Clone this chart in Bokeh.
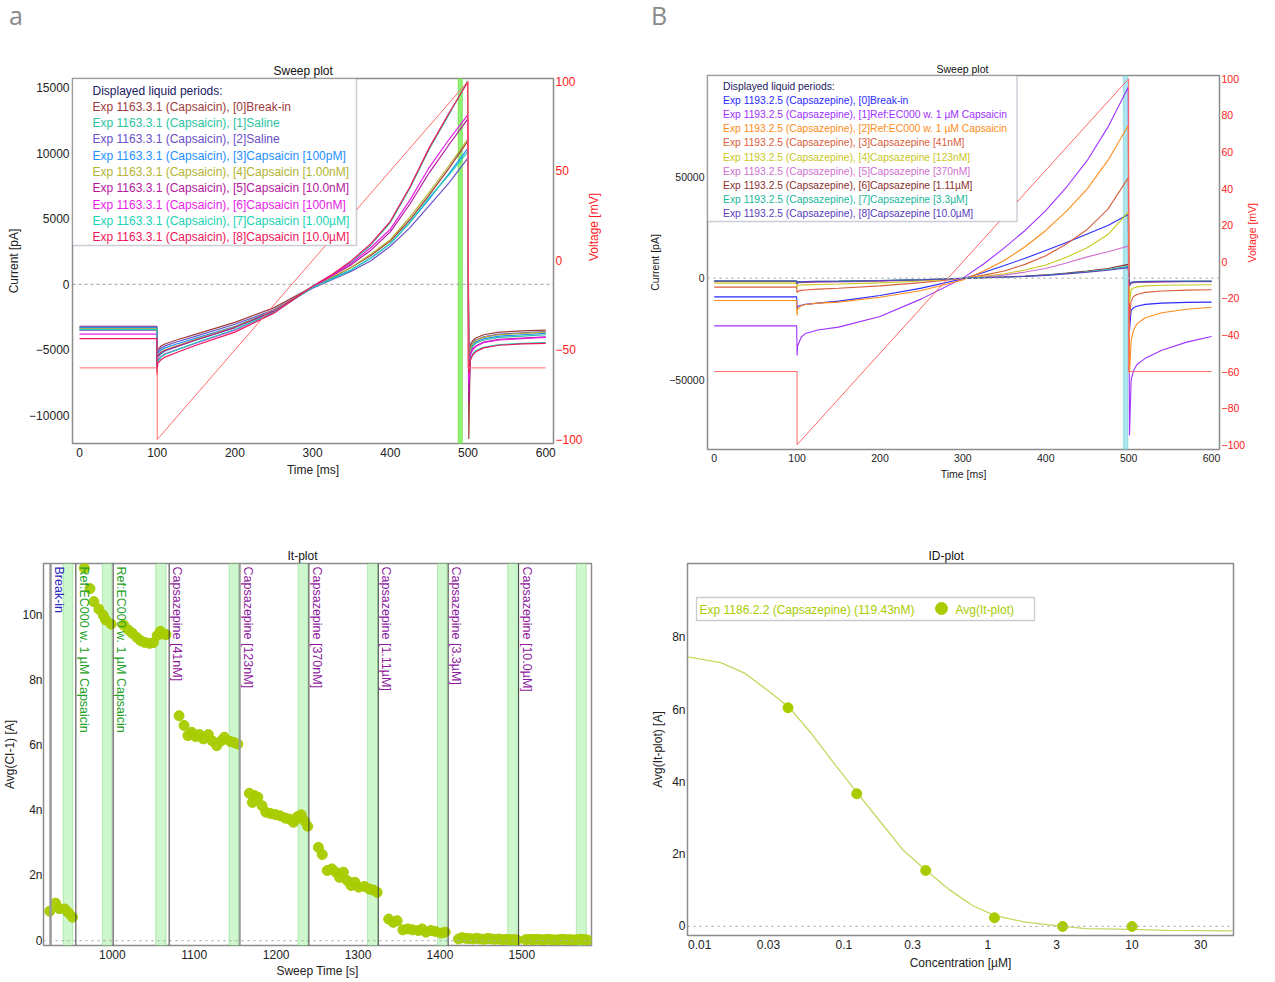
import math
from bokeh.plotting import figure
from bokeh.models import Range1d, LinearAxis, FixedTicker, BoxAnnotation, Span, Div
from bokeh.layouts import column, row
from bokeh.embed import file_html
from bokeh.resources import INLINE
from bokeh.core.properties import value

FONT = "Liberation Sans"

# ---------------- panel a : sweep plot (Capsaicin) ----------------
A_TIME = [0, 99.5, 100, 100.5, 105, 110, 125, 150, 200, 250, 300, 325, 350, 375, 400, 425, 450, 475, 499.5,
          501, 503, 506, 510, 520, 540, 570, 600]
A_LABELS = ["Exp 1163.3.1 (Capsaicin), [0]Break-in",
            "Exp 1163.3.1 (Capsaicin), [1]Saline",
            "Exp 1163.3.1 (Capsaicin), [2]Saline",
            "Exp 1163.3.1 (Capsaicin), [3]Capsaicin [100pM]",
            "Exp 1163.3.1 (Capsaicin), [4]Capsaicin [1.00nM]",
            "Exp 1163.3.1 (Capsaicin), [5]Capsaicin [10.0nM]",
            "Exp 1163.3.1 (Capsaicin), [6]Capsaicin [100nM]",
            "Exp 1163.3.1 (Capsaicin), [7]Capsaicin [1.00µM]",
            "Exp 1163.3.1 (Capsaicin), [8]Capsaicin [10.0µM]"]
A_COLORS = ["#a03c3c", "#2cc4a0", "#6a50c8", "#1e90ff", "#b4b432",
            "#b4189e", "#e81ee8", "#1ad2b4", "#f0145a"]
A_CURRENT = [
    [-3200, -3200, -6000, -5000, -4700, -4550, -4250, -3800, -2900, -1800, -200, 500, 1300, 2200, 3300, 4900, 6800, 8800, 10900,
     -11800, -4600, -4300, -4100, -3850, -3650, -3550, -3500],
    [-3300, -3300, -6600, -5600, -5300, -5100, -4750, -4250, -3300, -2100, -150, 700, 1700, 3000, 4700, 7300, 10300, 12900, 15500,
     -6500, -5100, -4700, -4500, -4250, -4050, -3950, -3850],
    [-3250, -3250, -6100, -5150, -4850, -4700, -4400, -3950, -3050, -1950, -300, 350, 1000, 1800, 2900, 4300, 6000, 7700, 9600,
     -6200, -4800, -4450, -4250, -4000, -3800, -3700, -3600],
    [-3350, -3350, -6200, -5300, -5000, -4850, -4550, -4100, -3200, -2000, -250, 450, 1100, 2000, 3100, 4700, 6500, 8400, 10350,
     -6300, -5000, -4600, -4400, -4150, -3950, -3850, -3750],
    [-3400, -3400, -6300, -5450, -5150, -5000, -4700, -4200, -3250, -2000, -200, 550, 1300, 2300, 3400, 5100, 7000, 9000, 11050,
     -6300, -4900, -4500, -4300, -4050, -3850, -3750, -3650],
    [-3500, -3500, -6400, -5500, -5200, -5050, -4750, -4250, -3300, -2050, -200, 650, 1500, 2600, 4000, 6100, 8500, 10600, 12600,
     -9000, -5300, -4900, -4700, -4400, -4200, -4100, -4000],
    [-3800, -3800, -6700, -5800, -5500, -5300, -5000, -4500, -3500, -2150, -200, 700, 1600, 2800, 4200, 6400, 8900, 11000, 12900,
     -7500, -5400, -5000, -4750, -4450, -4250, -4150, -4050],
    [-3450, -3450, -6500, -5900, -5550, -5350, -5000, -4450, -3450, -2150, -250, 400, 1100, 2000, 3100, 4700, 6600, 8300, 10100,
     -6600, -5700, -5300, -5050, -4800, -4600, -4500, -4450],
    [-4150, -4150, -6900, -6050, -5750, -5550, -5200, -4650, -3650, -2200, -150, 750, 1800, 3100, 4800, 7400, 10400, 13000, 15400,
     -6800, -5800, -5400, -5150, -4850, -4650, -4550, -4500],
]

# voltage protocol (both sweep plots)
V_TIME = [0, 100, 100, 500, 500, 600]
V_MV = [-60, -60, -100, 100, -60, -60]

# ---------------- panel B : sweep plot (Capsazepine) ----------------
B_TIME = A_TIME
B_LABELS = ["Exp 1193.2.5 (Capsazepine), [0]Break-in",
            "Exp 1193.2.5 (Capsazepine), [1]Ref:EC000 w. 1 µM Capsaicin",
            "Exp 1193.2.5 (Capsazepine), [2]Ref:EC000 w. 1 µM Capsaicin",
            "Exp 1193.2.5 (Capsazepine), [3]Capsazepine [41nM]",
            "Exp 1193.2.5 (Capsazepine), [4]Capsazepine [123nM]",
            "Exp 1193.2.5 (Capsazepine), [5]Capsazepine [370nM]",
            "Exp 1193.2.5 (Capsazepine), [6]Capsazepine [1.11µM]",
            "Exp 1193.2.5 (Capsazepine), [7]Capsazepine [3.3µM]",
            "Exp 1193.2.5 (Capsazepine), [8]Capsazepine [10.0µM]"]
B_COLORS = ["#2b2bff", "#a030ff", "#ff8c1a", "#d9603b", "#c8c81e",
            "#d070d0", "#8b3030", "#20b89a", "#5a40c0"]
B_CURRENT = [
    [-9200, -9200, -15100, -14000, -13300, -12900, -12300, -11300, -8500, -4900, -300, 2800, 6200, 9800, 13600, 17600, 21800, 25900, 31400,
     -26000, -15900, -14500, -13800, -12900, -12300, -11900, -11800],
    [-23500, -23500, -38100, -33500, -29000, -27300, -25500, -24100, -18900, -10200, 0, 7000, 14900, 23500, 33300, 44800, 58000, 74400, 94100,
     -77500, -50000, -45500, -42500, -39500, -35500, -31500, -28700],
    [-11000, -11000, -18400, -15500, -13500, -13000, -12300, -11800, -9400, -6100, -900, 3500, 8700, 15500, 23500, 33000, 44000, 58000, 75200,
     -47000, -30700, -25500, -22500, -19500, -17000, -15300, -14300],
    [-4430, -4430, -7200, -6500, -6000, -5800, -5400, -5000, -3800, -2200, -200, 1500, 3500, 6800, 11000, 16800, 24000, 34000, 49400,
     -20000, -11000, -9000, -8000, -7000, -6300, -5900, -5700],
    [-2460, -2460, -4500, -3600, -3400, -3300, -3100, -2900, -2300, -1400, -100, 900, 2200, 4000, 6500, 10300, 15000, 21500, 32500,
     -12000, -5700, -4800, -4300, -3800, -3500, -3350, -3250],
    [-1640, -1640, -2800, -2300, -2200, -2100, -2000, -1850, -1500, -900, -100, 600, 1500, 3000, 4800, 7500, 10500, 13000, 15800,
     -4000, -2600, -2300, -2100, -1950, -1850, -1750, -1700],
    [-1500, -1500, -3000, -2000, -1900, -1800, -1700, -1600, -1300, -800, -100, 250, 600, 1000, 1600, 2500, 3500, 4800, 6800,
     -3500, -2200, -2000, -1900, -1800, -1700, -1650, -1600],
    [-1300, -1300, -2600, -1800, -1700, -1650, -1550, -1450, -1150, -700, -50, 250, 550, 950, 1500, 2300, 3200, 4300, 5800,
     -3200, -2000, -1800, -1700, -1600, -1500, -1450, -1400],
    [-1400, -1400, -2700, -1900, -1800, -1700, -1600, -1500, -1200, -750, -50, 220, 500, 900, 1400, 2100, 2900, 3900, 5200,
     -3300, -2100, -1900, -1800, -1700, -1600, -1550, -1500],
]

# ---------------- It-plot ----------------
IT_TIME = [923.6, 930.7, 935.4, 942.0, 946.7, 951.3,
           965.8, 972.8, 977.5, 983.6, 989.0, 991.8, 998.6,
           1014.0, 1019.7, 1024.4, 1030.0, 1034.7, 1039.4, 1045.5, 1050.1, 1054.8, 1058.6, 1061.9, 1065.6,
           1081.5, 1087.6, 1092.3, 1097.0, 1101.7, 1106.4, 1111.0, 1117.2, 1121.8, 1127.5, 1133.0, 1136.8,
           1143.9, 1148.5, 1153.2,
           1167.3, 1171.0, 1173.4, 1177.6, 1182.8, 1187.4, 1193.0, 1198.7, 1204.8, 1210.9, 1215.6, 1221.2,
           1225.9, 1230.6, 1234.3, 1238.5,
           1251.6, 1256.3, 1262.4, 1268.0, 1272.7, 1277.4, 1282.1, 1286.8, 1291.5, 1296.2, 1300.8, 1307.9,
           1314.0, 1318.7, 1323.3,
           1337.4, 1343.0, 1347.7, 1354.7, 1360.8, 1366.5, 1373.5, 1378.2, 1382.8, 1389.0, 1394.6, 1401.6, 1406.3,
           1422.7, 1427.0, 1431.5, 1436.0, 1440.5, 1445.0, 1449.5, 1454.0, 1458.5, 1463.0, 1467.5, 1472.0,
           1476.5, 1481.0, 1485.5, 1490.0, 1494.0,
           1504.7, 1509.2, 1513.7, 1518.2, 1522.7, 1527.2, 1531.7, 1536.2, 1540.7, 1545.2, 1549.7, 1554.2,
           1558.7, 1563.2, 1567.7, 1572.2, 1576.7, 1580.0]
IT_NA = [0.90, 1.15, 0.98, 0.97, 0.85, 0.72,
         11.43, 10.80, 10.40, 10.17, 9.98, 9.84, 9.71,
         9.68, 9.53, 9.43, 9.30, 9.20, 9.15, 9.12, 9.14, 9.36, 9.49, 9.41, 9.39,
         6.90, 6.60, 6.29, 6.39, 6.26, 6.32, 6.19, 6.32, 6.13, 5.98, 6.13, 6.24,
         6.11, 6.08, 6.03,
         4.52, 4.24, 4.45, 4.40, 4.14, 3.94, 3.90, 3.87, 3.83, 3.76, 3.73, 3.63,
         3.80, 3.86, 3.68, 3.51,
         2.86, 2.64, 2.15, 2.20, 2.10, 1.94, 2.10, 1.84, 1.69, 1.79, 1.64, 1.66,
         1.58, 1.55, 1.48,
         0.66, 0.56, 0.61, 0.33, 0.36, 0.33, 0.31, 0.36, 0.26, 0.31, 0.28, 0.23, 0.26,
         0.05, 0.09, 0.07, 0.06, 0.05, 0.07, 0.05, 0.04, 0.07, 0.05, 0.04, 0.05,
         0.03, 0.04, 0.03, 0.03, 0.02,
         0.03, 0.04, 0.03, 0.04, 0.03, 0.03, 0.04, 0.03, 0.02, 0.03, 0.04, 0.03,
         0.03, 0.02, 0.03, 0.04, 0.03, 0.02]
IT_EVENT_T = [924.6, 955.5, 1001.0, 1069.4, 1155.6, 1240.0, 1324.7, 1410.0, 1496.0]
IT_EVENT_LABELS = ["Break-in", "Ref:EC000 w. 1 µM Capsaicin", "Ref:EC000 w. 1 µM Capsaicin",
                   "Capsazepine [41nM]", "Capsazepine [123nM]", "Capsazepine [370nM]",
                   "Capsazepine [1.11µM]", "Capsazepine [3.3µM]", "Capsazepine [10.0µM]"]
IT_EVENT_COLORS = ["#2a2ab8", "#22a022", "#22a022", "#8e1a9e", "#8e1a9e", "#8e1a9e",
                   "#8e1a9e", "#8e1a9e", "#8e1a9e"]
IT_WIN_START = [940.0, 987.8, 1053.0, 1142.5, 1226.8, 1311.6, 1397.0, 1482.7, 1566.5]
IT_WIN_END = [951.7, 999.5, 1065.6, 1154.2, 1238.5, 1323.8, 1408.6, 1494.4, 1578.7]
IT_WIN_AVG = [0.80, 9.80, 9.40, 6.10, 3.70, 1.60, 0.25, 0.02, 0.02]

# ---------------- ID-plot ----------------
ID_CONC = [0.041, 0.123, 0.37, 1.11, 3.3, 10.0]
ID_NA = [6.05, 3.67, 1.55, 0.24, 0.0, 0.0]
FIT_CONC = [0.00823, 0.01401, 0.02068, 0.03051, 0.04194, 0.05837, 0.08072, 0.1255, 0.1876, 0.2595,
            0.3730, 0.5296, 0.7816, 1.117, 1.816, 3.320, 4.805, 10.0, 17.58, 49.7]
FIT_NA = [7.46, 7.30, 7.00, 6.49, 6.05, 5.38, 4.64, 3.67, 2.80, 2.10,
          1.55, 1.04, 0.58, 0.30, 0.12, 0.00, -0.06, -0.08, -0.11, -0.12]
ID_TICKS = [0.01, 0.03, 0.1, 0.3, 1, 3, 10, 30]
ID_TICK_LABELS = ["0.01", "0.03", "0.1", "0.3", "1", "3", "10", "30"]
ID_LEGEND = "Exp 1186.2.2 (Capsazepine) (119.43nM)"
ID_SERIES = "Avg(It-plot)"
GREEN = "#a8cc00"


def lin(px, p0, p1, v0, v1):
    return v0 + (px - p0) * (v1 - v0) / (p1 - p0)


def make_fig(w, h, xr, yr, bl, br, bt, bb, x_axis_type="linear"):
    p = figure(width=w, height=h, x_range=Range1d(*xr), y_range=Range1d(*yr),
               output_backend="svg", toolbar_location=None, x_axis_type=x_axis_type,
               min_border_left=bl, min_border_right=br, min_border_top=bt, min_border_bottom=bb)
    p.grid.visible = False
    p.outline_line_color = "#8c8c8c"
    p.outline_line_width = 1.5
    p.background_fill_color = "white"
    p.border_fill_color = "white"
    return p


def style_axis(ax, size="12px", color="#222222", lstand=3, astand=5):
    ax.major_label_text_font = FONT
    ax.major_label_text_font_size = size
    ax.major_label_text_color = color
    ax.axis_label_text_font = FONT
    ax.axis_label_text_font_size = size
    ax.axis_label_text_font_style = "normal"
    ax.axis_label_text_color = color
    ax.axis_line_color = None
    ax.major_tick_line_color = None
    ax.minor_tick_line_color = None
    ax.major_tick_out = 0
    ax.major_tick_in = 0
    ax.minor_tick_out = 0
    ax.minor_tick_in = 0
    ax.major_label_standoff = lstand
    ax.axis_label_standoff = astand


def style_title(p, text, size, standoff, offset):
    p.title.text = text
    p.title.align = "left"
    p.title.text_font = FONT
    p.title.text_font_size = size
    p.title.text_font_style = "normal"
    p.title.text_color = "#111111"
    p.title.standoff = standoff
    p.title.offset = offset


def rotate_right_label(ax):
    try:
        ax.axis_label_orientation = math.pi / 2
    except Exception:
        pass


# ======================= panel a =======================
AX = (-9, 610)
AY = (-12140, 15690)
AV = (-102.2, 101.5)
pa = make_fig(646, 450, AX, AY, 72, 93, 30, 55)
style_title(pa, "Sweep plot", "12px", 1, 201)
pa.extra_y_ranges = {"v": Range1d(*AV)}
pa.xaxis.ticker = FixedTicker(ticks=[0, 100, 200, 300, 400, 500, 600])
pa.yaxis.ticker = FixedTicker(ticks=[-10000, -5000, 0, 5000, 10000, 15000])
pa.xaxis.axis_label = "Time [ms]"
pa.yaxis.axis_label = "Current [pA]"
style_axis(pa.xaxis[0], lstand=4, astand=3)
style_axis(pa.yaxis[0], lstand=3, astand=5)
va = LinearAxis(y_range_name="v", axis_label="Voltage [mV]",
                ticker=FixedTicker(ticks=[-100, -50, 0, 50, 100]))
style_axis(va, size="12px", color="#ff2020", lstand=2, astand=8)
rotate_right_label(va)
pa.add_layout(va, "right")
pa.add_layout(Span(location=0, dimension="width", line_color="#9a9a9a", line_dash="3 3", line_width=1))
pa.add_layout(BoxAnnotation(left=487.5, right=492.5, fill_color="#80f060", fill_alpha=0.85,
                            line_color="#70e050", line_alpha=0.9, level="underlay"))
for cur, col in zip(A_CURRENT, A_COLORS):
    pa.line(A_TIME, cur, line_color=col, line_width=1.2)
pa.line(V_TIME, V_MV, y_range_name="v", line_color="#ff6b6b", line_width=1)

pxA = lambda X: lin(X, 72, 553, AX[0], AX[1])
pyA = lambda Y: lin(Y, 78, 443, AY[1], AY[0])
pa.add_layout(BoxAnnotation(left=pxA(72), right=pxA(356), top=pyA(78), bottom=pyA(245),
                            fill_color="white", fill_alpha=1.0, line_color="#5a5a7a", line_width=1.5))
ta = pa.text(x=[pxA(92)] * 10, y=[pyA(90)] + [pyA(106 + 16.35 * i) for i in range(9)],
             text=["Displayed liquid periods:"] + A_LABELS,
             text_color=["#202060"] + A_COLORS,
             text_font=value(FONT), text_font_size=value("12px"),
             text_baseline="middle", text_align="left")
ta.level = "overlay"

# ======================= panel B =======================
BX = (-8.1, 609.6)
BY = (-84400, 99840)
BV = (-102.6, 101.8)
pb = make_fig(621, 450, BX, BY, 58, 37, 27, 49)
style_title(pb, "Sweep plot", "10.5px", 1, 229)
pb.extra_y_ranges = {"v": Range1d(*BV)}
pb.xaxis.ticker = FixedTicker(ticks=[0, 100, 200, 300, 400, 500, 600])
pb.yaxis.ticker = FixedTicker(ticks=[-50000, 0, 50000])
pb.xaxis.axis_label = "Time [ms]"
pb.yaxis.axis_label = "Current [pA]"
style_axis(pb.xaxis[0], size="10.5px", lstand=4, astand=3)
style_axis(pb.yaxis[0], size="10.5px", lstand=3, astand=5)
vb = LinearAxis(y_range_name="v", axis_label="Voltage [mV]",
                ticker=FixedTicker(ticks=[-100, -80, -60, -40, -20, 0, 20, 40, 60, 80, 100]))
style_axis(vb, size="10.5px", color="#ff2020", lstand=2, astand=4)
rotate_right_label(vb)
pb.add_layout(vb, "right")
pb.add_layout(Span(location=0, dimension="width", line_color="#b8b8b8", line_dash="2 4", line_width=1.5))
pb.add_layout(BoxAnnotation(left=493.8, right=498.8, fill_color="#a8e4ec", fill_alpha=0.9,
                            line_color="#30b8c8", line_width=1.5, level="underlay"))
for cur, col in zip(B_CURRENT, B_COLORS):
    pb.line(B_TIME, cur, line_color=col, line_width=1.1)
pb.line(V_TIME, V_MV, y_range_name="v", line_color="#ff6666", line_width=1)

pxB = lambda X: lin(X, 704, 1230, BX[0], BX[1])
pyB = lambda Y: lin(Y, 75, 449, BY[1], BY[0])
pb.add_layout(BoxAnnotation(left=pxB(704), right=pxB(1022), top=pyB(75), bottom=pyB(221),
                            fill_color="white", fill_alpha=1.0, line_color="#5a5a7a", line_width=1.5))
tb = pb.text(x=[pxB(720)] * 10, y=[pyB(86)] + [pyB(100 + 14.13 * i) for i in range(9)],
             text=["Displayed liquid periods:"] + B_LABELS,
             text_color=["#202060"] + B_COLORS,
             text_font=value(FONT), text_font_size=value("10.3px"),
             text_baseline="middle", text_align="left")
tb.level = "overlay"

# ======================= It-plot =======================
CX = (916, 1585)
CY = (-0.15, 11.57)
pc = make_fig(646, 482, CX, CY, 42, 55, 65, 34)
style_title(pc, "It-plot", "12px", 1, 244)
pc.xaxis.ticker = FixedTicker(ticks=[1000, 1100, 1200, 1300, 1400, 1500])
pc.yaxis.ticker = FixedTicker(ticks=[0, 2, 4, 6, 8, 10])
pc.yaxis.major_label_overrides = {0: "0", 2: "2n", 4: "4n", 6: "6n", 8: "8n", 10: "10n"}
pc.xaxis.axis_label = "Sweep Time [s]"
pc.yaxis.axis_label = "Avg(CI-1) [A]"
style_axis(pc.xaxis[0], size="12px", lstand=4, astand=2)
style_axis(pc.yaxis[0], size="12px", lstand=1, astand=2)
pc.add_layout(Span(location=0, dimension="width", line_color="#b0b0b0", line_dash="2 4", line_width=1.2))
for s, e in zip(IT_WIN_START, IT_WIN_END):
    pc.add_layout(BoxAnnotation(left=s, right=e, fill_color="#c6f6c6", fill_alpha=0.85,
                                line_color="#3cc83c", line_width=1, level="underlay"))
pc.segment(x0=IT_WIN_START, x1=IT_WIN_END, y0=IT_WIN_AVG, y1=IT_WIN_AVG,
           line_color="#2cb82c", line_width=1.2)
for i, t in enumerate(IT_EVENT_T):
    grey = i in (0, 4)
    pc.add_layout(Span(location=t, dimension="height",
                       line_color="#9a9a9a" if grey else "#3a3a3a",
                       line_width=2.5 if i == 0 else (2 if grey else 1)))
pc.scatter(IT_TIME, IT_NA, size=10, fill_color=GREEN, line_color=GREEN, fill_alpha=0.95)
tc = pc.text(x=IT_EVENT_T, y=[CY[1]] * len(IT_EVENT_T), text=IT_EVENT_LABELS,
             text_color=IT_EVENT_COLORS, angle=-math.pi / 2,
             text_font=value(FONT), text_font_size=value("12.5px"),
             text_baseline="bottom", text_align="left", x_offset=1, y_offset=3)
tc.level = "overlay"

# ======================= ID-plot =======================
DX = (0.00823, 50.6)
DY = (-0.25, 10.04)
pd_ = make_fig(613, 482, DX, DY, 41, 26, 65, 45, x_axis_type="log")
style_title(pd_, "ID-plot", "12px", 1, 241)
pd_.xaxis.ticker = FixedTicker(ticks=ID_TICKS)
pd_.xaxis.major_label_overrides = {t: l for t, l in zip(ID_TICKS, ID_TICK_LABELS)}
pd_.yaxis.ticker = FixedTicker(ticks=[0, 2, 4, 6, 8])
pd_.yaxis.major_label_overrides = {0: "0", 2: "2n", 4: "4n", 6: "6n", 8: "8n"}
pd_.xaxis.axis_label = "Concentration [µM]"
pd_.yaxis.axis_label = "Avg(It-plot) [A]"
style_axis(pd_.xaxis[0], size="12px", lstand=4, astand=4)
style_axis(pd_.yaxis[0], size="12px", lstand=2, astand=4)
pd_.add_layout(Span(location=0, dimension="width", line_color="#b0b0b0", line_dash="2 4", line_width=1.2))
pd_.line(FIT_CONC, FIT_NA, line_color="#c4d860", line_width=1.3)
pd_.scatter(ID_CONC, ID_NA, size=10, fill_color=GREEN, line_color=GREEN)

lx0, lx1 = math.log10(DX[0]), math.log10(DX[1])
pxD = lambda X: 10 ** lin(X, 687, 1233, lx0, lx1)
pyD = lambda Y: lin(Y, 563, 935, DY[1], DY[0])
pd_.add_layout(BoxAnnotation(left=pxD(696), right=pxD(1034), top=pyD(597), bottom=pyD(620),
                             fill_color="white", fill_alpha=1.0, line_color="#555555", line_width=1.3))
td = pd_.text(x=[pxD(699), pxD(955)], y=[pyD(609), pyD(609)], text=[ID_LEGEND, ID_SERIES],
              text_color=GREEN, text_font=value(FONT), text_font_size=value("12px"),
              text_baseline="middle", text_align="left")
td.level = "overlay"
kd = pd_.scatter(x=[pxD(941)], y=[pyD(608)], size=12, fill_color=GREEN, line_color=GREEN)
kd.level = "overlay"

# ======================= page =======================
head_a = Div(text='<div style="font-family:\'Open Sans\';font-size:25px;color:#8a8a8a;'
                  'line-height:25px;padding-top:3px;padding-left:9px;">a</div>',
             width=646, height=48, margin=0)
head_b = Div(text='<div style="font-family:\'Open Sans\';font-size:25px;color:#8a8a8a;'
                  'line-height:25px;padding-top:3px;padding-left:5px;">B</div>',
             width=613, height=48, margin=0)

# each figure sits in its own column so that the row does not align their borders
layout = column(row(head_a, head_b),
                row(column(pa), column(pb)),
                row(column(pc), column(pd_)))
open("out.html", "w").write(file_html(layout, INLINE, title="Sweep, It and ID plots"))
